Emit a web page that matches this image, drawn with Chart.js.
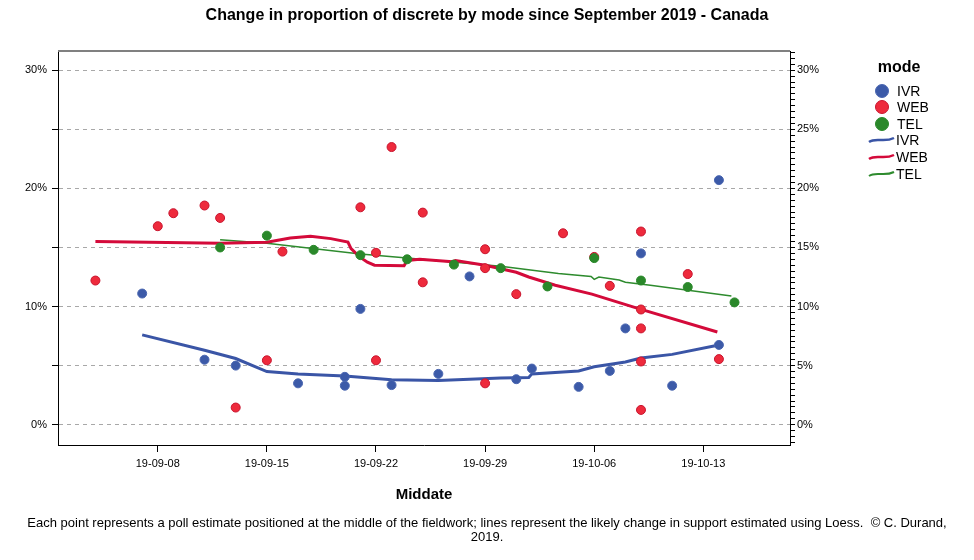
<!DOCTYPE html>
<html>
<head>
<meta charset="utf-8">
<script src="https://cdn.jsdelivr.net/npm/chart.js@4"></script>
<style>
  body { margin: 0; background: #fff; }
</style>
</head>
<body>
<canvas id="modeChart" width="974" height="560"></canvas>
<script>
// x values are days since 2019-09-01 (middle of fieldwork)
const tickDays = [7, 14, 21, 28, 35, 42];
const tickLabels = ['19-09-08', '19-09-15', '19-09-22', '19-09-29', '19-10-06', '19-10-13'];
const leftTickValues = [0, 5, 10, 15, 20, 25, 30];
const leftTickLabels = ['0%', '', '10%', '', '20%', '', '30%'];
const rightTickValues = [0, 5, 10, 15, 20, 25, 30];
const rightTickLabels = ['0%', '5%', '10%', '15%', '20%', '25%', '30%'];
const modes = ['IVR', 'WEB', 'TEL'];

// poll estimates
const ivrDays = [6, 10, 12, 16, 19, 19, 20, 22, 25, 27, 30, 31, 34, 36, 37, 38, 40, 43, 43];
const ivrPct = [11.1, 5.5, 5.0, 3.5, 4.05, 3.3, 9.8, 3.35, 4.3, 12.55, 3.85, 4.75, 3.2, 4.55, 8.15, 14.5, 3.3, 20.7, 6.75];

const webDays = [3, 7, 8, 10, 11, 12, 14, 15, 20, 21, 21, 22, 24, 24, 28, 28, 28, 30, 33, 35, 36, 38, 38, 38, 38, 38, 41, 43];
const webPct = [12.2, 16.8, 17.9, 18.55, 17.5, 1.45, 5.45, 14.65, 18.4, 14.55, 5.45, 23.5, 17.95, 12.05, 14.85, 13.25, 3.5, 11.05, 16.2, 14.2, 11.75, 16.35, 9.75, 8.15, 5.35, 1.25, 12.75, 5.55];

const telDays = [11, 14, 17, 20, 23, 26, 29, 32, 35, 38, 41, 44];
const telPct = [15.0, 16.0, 14.8, 14.35, 14.0, 13.55, 13.25, 11.7, 14.1, 12.2, 11.65, 10.35];

// loess curves
const ivrLoessDays = [6, 10, 12, 14, 16, 19, 22, 25, 29, 30.8, 31, 34, 35, 37, 38, 40, 43];
const ivrLoessPct = [7.6, 6.3, 5.6, 4.5, 4.3, 4.12, 3.8, 3.75, 3.95, 4.0, 4.3, 4.55, 4.9, 5.3, 5.65, 5.95, 6.75];

const webLoessDays = [3, 11, 14, 15.5, 16.8, 18.1, 19.2, 19.4, 19.95, 20.45, 20.9, 22.8, 23.0, 23.8, 25.9, 26.1, 28, 30, 30.8, 32.5, 34.85, 37.9, 42.9];
const webLoessPct = [15.5, 15.35, 15.45, 15.8, 15.95, 15.75, 15.45, 14.9, 14.2, 13.75, 13.5, 13.45, 13.9, 14.0, 13.8, 13.9, 13.5, 12.9, 12.5, 11.8, 11.05, 9.8, 7.85];

const telLoessDays = [11, 14, 20, 23, 29, 32.7, 34.8, 35, 35.3, 36.6, 37, 38.6, 43.8];
const telLoessPct = [15.65, 15.35, 14.45, 14.1, 13.4, 12.8, 12.55, 12.3, 12.5, 12.25, 12.05, 11.8, 10.9];

const pointColors = ['#3c5aa8', '#ee2a3c', '#2a882a'];
const pointBorders = ['#4a66b0', '#c8142e', '#2a882a'];
const lineColors = ['#3a55a6', '#d40a3a', '#2e8b2e'];

function toXY(xs, ys) {
    return xs.map((x, i) => ({ x: x, y: ys[i] }));
}

function pointSet(label, xs, ys, idx, order) {
    return {
        label: label,
        data: toXY(xs, ys),
        showLine: false,
        pointRadius: 4.5,
        pointBackgroundColor: pointColors[idx],
        pointBorderColor: pointBorders[idx],
        pointBorderWidth: 1,
        order: order
    };
}

function lineSet(label, xs, ys, idx, width, order) {
    return {
        label: label,
        data: toXY(xs, ys),
        showLine: true,
        borderColor: lineColors[idx],
        borderWidth: width,
        pointRadius: 0,
        tension: 0,
        order: order
    };
}

const FONT = "'Liberation Sans', Arial, sans-serif";

// frame top line + legend on the right
const extrasPlugin = {
    id: 'extras',
    beforeDatasetsDraw(chart) {
        const { ctx, chartArea: a } = chart;
        ctx.save();
        ctx.strokeStyle = '#808080';
        ctx.lineWidth = 2;
        ctx.beginPath();
        ctx.moveTo(a.left, a.top);
        ctx.lineTo(a.right, a.top);
        ctx.stroke();
        ctx.restore();
    },
    afterDraw(chart) {
        const ctx = chart.ctx;
        ctx.save();
        ctx.fillStyle = '#000';
        ctx.textAlign = 'center';
        ctx.textBaseline = 'middle';
        ctx.font = 'bold 16px ' + FONT;
        ctx.fillText('mode', 899, 68);

        ctx.font = '14px ' + FONT;
        ctx.textAlign = 'left';
        const dotY = [91, 107, 124];
        const lineY = [140, 157, 174];
        modes.forEach((m, i) => {
            ctx.beginPath();
            ctx.arc(882, dotY[i], 6.5, 0, Math.PI * 2);
            ctx.fillStyle = pointColors[i];
            ctx.fill();
            ctx.lineWidth = 1;
            ctx.strokeStyle = pointBorders[i];
            ctx.stroke();
            ctx.fillStyle = '#000';
            ctx.fillText(m, 897, dotY[i] + 1);

            ctx.beginPath();
            ctx.moveTo(869, lineY[i] + 2);
            ctx.bezierCurveTo(876, lineY[i] - 3, 884, lineY[i] + 3, 894, lineY[i] - 2);
            ctx.strokeStyle = lineColors[i];
            ctx.lineWidth = i === 2 ? 2 : 2.5;
            ctx.stroke();
            ctx.fillStyle = '#000';
            ctx.fillText(m, 896, lineY[i] + 1);
        });
        ctx.restore();
    }
};

new Chart(document.getElementById('modeChart'), {
    type: 'scatter',
    data: {
        datasets: [
            pointSet('IVR', ivrDays, ivrPct, 0, 2),
            pointSet('WEB', webDays, webPct, 1, 1),
            pointSet('TEL', telDays, telPct, 2, 0),
            lineSet('IVR', ivrLoessDays, ivrLoessPct, 0, 3, 4),
            lineSet('WEB', webLoessDays, webLoessPct, 1, 3, 3),
            lineSet('TEL', telLoessDays, telLoessPct, 2, 1.5, 5)
        ]
    },
    options: {
        responsive: false,
        animation: false,
        layout: { padding: 0 },
        plugins: {
            legend: { display: false },
            tooltip: { enabled: false },
            title: {
                display: true,
                text: 'Change in proportion of discrete by mode since September 2019 - Canada',
                color: '#000',
                font: { family: FONT, size: 16, weight: 'bold' },
                padding: { top: 6, bottom: 25.8 }
            },
            subtitle: {
                display: true,
                position: 'bottom',
                text: ['Each point represents a poll estimate positioned at the middle of the fieldwork; lines represent the likely change in support estimated using Loess.  \u00A9 C. Durand,', '2019.'],
                color: '#000',
                font: { family: FONT, size: 13, lineHeight: 14 / 13 },
                padding: { top: 11, bottom: 16 }
            }
        },
        scales: {
            x: {
                type: 'linear',
                min: 0.6,
                max: 47.56,
                afterBuildTicks: s => { s.ticks = tickDays.map(v => ({ value: v })); },
                afterFit: s => { s.height = 60; },
                ticks: {
                    callback: v => tickLabels[tickDays.indexOf(v)],
                    color: '#000',
                    font: { family: FONT, size: 11 },
                    padding: 5,
                    maxRotation: 0,
                    autoSkip: false
                },
                grid: { drawOnChartArea: false, tickLength: 7, tickColor: '#000' },
                border: { color: '#000' },
                title: {
                    display: true,
                    text: 'Middate',
                    color: '#000',
                    font: { family: FONT, size: 15, weight: 'bold' },
                    padding: { top: 0, bottom: 1.5 }
                }
            },
            y: {
                position: 'left',
                min: -1.72,
                max: 31.63,
                afterBuildTicks: s => { s.ticks = leftTickValues.map(v => ({ value: v })); },
                afterFit: s => { s.width = 58; },
                ticks: {
                    callback: v => leftTickLabels[leftTickValues.indexOf(v)],
                    color: '#000',
                    font: { family: FONT, size: 11 },
                    padding: 5,
                    autoSkip: false
                },
                grid: { color: '#a8a8a8', tickColor: '#000', tickLength: 6 },
                border: { color: '#000', dash: [4, 4] }
            },
            y2: {
                position: 'right',
                min: -1.72,
                max: 31.63,
                afterBuildTicks: s => {
                    const t = [];
                    for (let v = -1.5; v <= 31.5; v += 0.5) t.push({ value: v });
                    s.ticks = t;
                },
                afterFit: s => { s.width = 184; },
                ticks: {
                    callback: v => {
                        const i = rightTickValues.indexOf(v);
                        return i >= 0 ? rightTickLabels[i] : '';
                    },
                    color: '#000',
                    font: { family: FONT, size: 11 },
                    padding: 2,
                    autoSkip: false
                },
                grid: { drawOnChartArea: false, tickLength: 5, tickColor: '#000' },
                border: { color: '#000' }
            }
        }
    },
    plugins: [extrasPlugin]
});
</script>
</body>
</html>
